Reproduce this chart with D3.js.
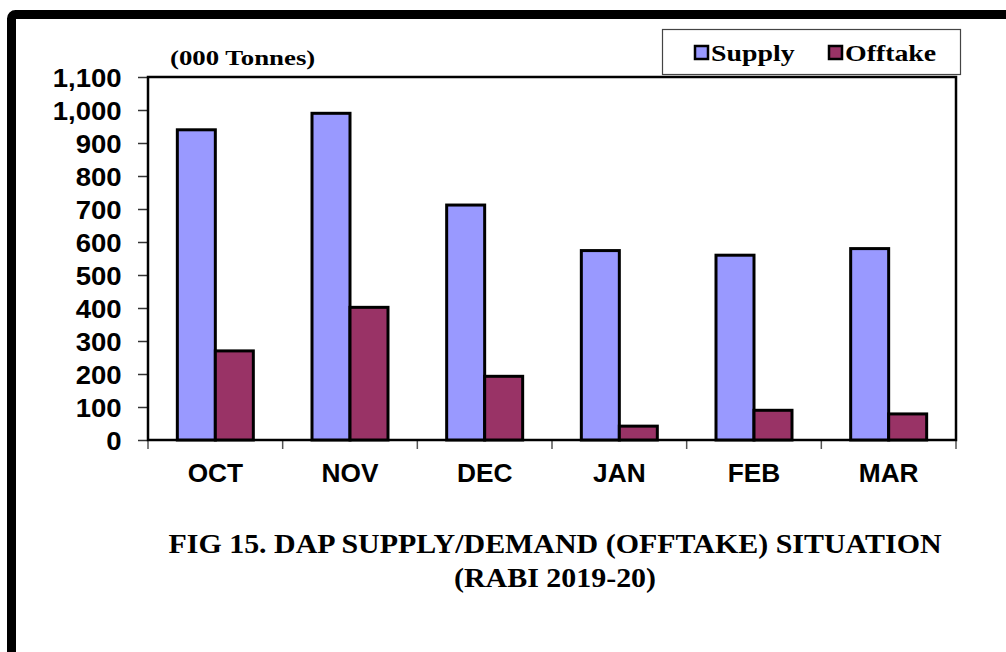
<!DOCTYPE html>
<html>
<head>
<meta charset="utf-8">
<script src="https://cdn.jsdelivr.net/npm/d3@7"></script>
<style>
  body { margin: 0; background: #fff; }
  svg { display: block; }
</style>
</head>
<body>
<div id="chart"></div>
<script>
// DAP supply vs offtake, rabi 2019-20
var months = ['OCT', 'NOV', 'DEC', 'JAN', 'FEB', 'MAR'];
var seriesNames = ['Supply', 'Offtake'];
var supply = [940, 990, 712, 574, 560, 580];
var offtake = [270, 402, 193, 42, 90, 79];
var yTicks = [0, 100, 200, 300, 400, 500, 600, 700, 800, 900, 1000, 1100];
var colors = ['#9999FF', '#993366'];

var W = 1006, H = 652;
var plot = {left: 148, top: 77, right: 956, bottom: 440};
var SANS = '"Liberation Sans", Arial, sans-serif';
var SERIF = '"Liberation Serif", "Times New Roman", serif';

var svg = d3.select('#chart').append('svg')
  .attr('width', W)
  .attr('height', H);

// thick outer frame, runs off the right and bottom edges
svg.append('rect')
  .attr('x', 11.5).attr('y', 14.5)
  .attr('width', 1040).attr('height', 700)
  .attr('rx', 4)
  .attr('fill', 'none')
  .attr('stroke', '#000')
  .attr('stroke-width', 9);

var x0 = d3.scaleBand()
  .domain(months)
  .range([plot.left, plot.right])
  .paddingInner(0).paddingOuter(0);

var x1 = d3.scaleBand()
  .domain(seriesNames)
  .range([0, x0.bandwidth()])
  .paddingInner(0).paddingOuter(0.772);

var y = d3.scaleLinear()
  .domain([0, 1100])
  .range([plot.bottom, plot.top]);

// y axis
var yAxis = svg.append('g')
  .attr('transform', 'translate(' + plot.left + ',0)')
  .call(d3.axisLeft(y).tickValues(yTicks).tickFormat(d3.format(',')).tickSize(10).tickPadding(14));
yAxis.select('.domain').remove();
yAxis.selectAll('line').attr('stroke', '#333').attr('stroke-width', 1.5);
yAxis.selectAll('text')
  .attr('fill', '#000')
  .attr('transform', 'scale(1.1,1)')
  .style('font-family', SANS)
  .style('font-weight', 'bold')
  .style('font-size', '25px')
  .attr('dy', '0.36em');

// x axis ticks sit on band boundaries
var bounds = months.map(function(m){ return x0(m); }).concat([plot.right]);
svg.append('g').selectAll('line')
  .data(bounds)
  .enter().append('line')
    .attr('x1', function(d){ return d; })
    .attr('x2', function(d){ return d; })
    .attr('y1', plot.bottom)
    .attr('y2', plot.bottom + 9)
    .attr('stroke', '#555')
    .attr('stroke-width', 1.5);

svg.append('g').selectAll('text')
  .data(months)
  .enter().append('text')
    .attr('transform', function(d){
      return 'translate(' + (x0(d) + x0.bandwidth() / 2) + ',482) scale(1.05,1)';
    })
    .attr('text-anchor', 'middle')
    .style('font-family', SANS)
    .style('font-weight', 'bold')
    .style('font-size', '25px')
    .text(function(d){ return d; });

// plot frame
svg.append('rect')
  .attr('x', plot.left).attr('y', plot.top)
  .attr('width', plot.right - plot.left)
  .attr('height', plot.bottom - plot.top)
  .attr('fill', 'none')
  .attr('stroke', '#000')
  .attr('stroke-width', 2.5);

// bars
var rows = months.map(function(m, i){
  return {month: m, values: [supply[i], offtake[i]]};
});
var groups = svg.append('g').selectAll('g')
  .data(rows)
  .enter().append('g')
    .attr('transform', function(d){ return 'translate(' + x0(d.month) + ',0)'; });
groups.selectAll('rect')
  .data(function(d){ return d.values.map(function(v, j){ return {name: seriesNames[j], value: v, idx: j}; }); })
  .enter().append('rect')
    .attr('x', function(d){ return x1(d.name); })
    .attr('y', function(d){ return y(d.value); })
    .attr('width', x1.bandwidth())
    .attr('height', function(d){ return y(0) - y(d.value); })
    .attr('fill', function(d){ return colors[d.idx]; })
    .attr('stroke', '#000')
    .attr('stroke-width', 3);

// unit label
svg.append('text')
  .attr('transform', 'translate(170,65) scale(1.22,1)')
  .style('font-family', SERIF)
  .style('font-weight', 'bold')
  .style('font-size', '22px')
  .text('(000 Tonnes)');

// legend
var legend = svg.append('g');
legend.append('rect')
  .attr('x', 662.5).attr('y', 29.5)
  .attr('width', 298).attr('height', 45)
  .attr('fill', '#fff')
  .attr('stroke', '#444')
  .attr('stroke-width', 1.2);
var legendX = [695, 829];
var items = legend.selectAll('g.item')
  .data(seriesNames)
  .enter().append('g')
    .attr('class', 'item')
    .attr('transform', function(d, i){ return 'translate(' + legendX[i] + ',0)'; });
items.append('rect')
  .attr('x', 0).attr('y', 46)
  .attr('width', 13).attr('height', 13)
  .attr('fill', function(d, i){ return colors[i]; })
  .attr('stroke', '#000')
  .attr('stroke-width', 2.5);
items.append('text')
  .attr('transform', 'translate(16,61) scale(1.16,1)')
  .style('font-family', SERIF)
  .style('font-weight', 'bold')
  .style('font-size', '24px')
  .text(function(d){ return d; });

// caption
var caption = ['FIG 15. DAP SUPPLY/DEMAND (OFFTAKE) SITUATION', '(RABI 2019-20)'];
svg.append('g').selectAll('text')
  .data(caption)
  .enter().append('text')
    .attr('transform', function(d, i){ return 'translate(555,' + (553 + i * 34) + ') scale(1.07,1)'; })
    .attr('text-anchor', 'middle')
    .style('font-family', SERIF)
    .style('font-weight', 'bold')
    .style('font-size', '28px')
    .text(function(d){ return d; });
</script>
</body>
</html>
